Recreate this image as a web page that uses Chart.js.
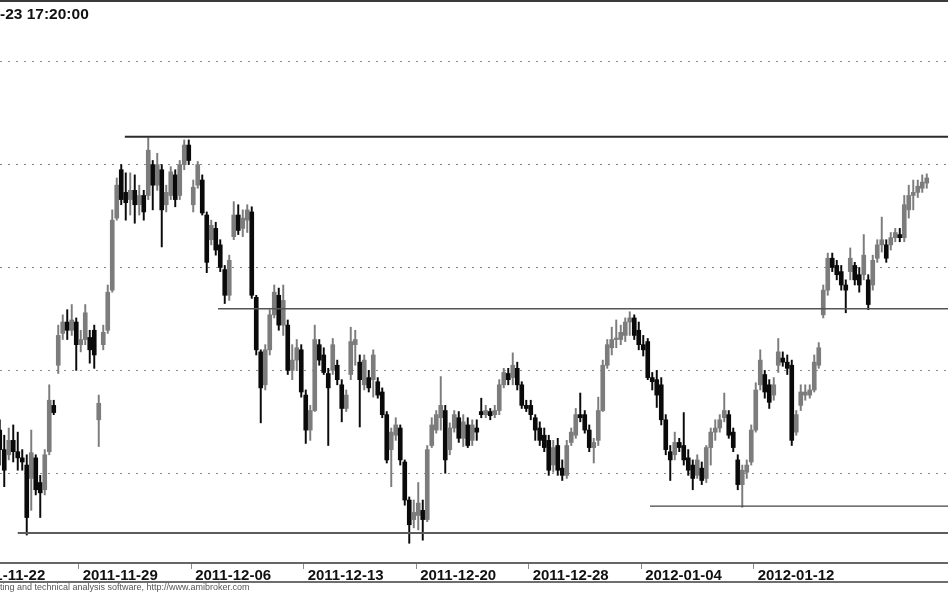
<!DOCTYPE html>
<html>
<head>
<meta charset="utf-8">
<script src="https://cdn.jsdelivr.net/npm/chart.js@4.4.1/dist/chart.umd.min.js"></script>
<style>
  html, body { margin: 0; padding: 0; background: #fff; overflow: hidden; }
  canvas { display: block; }
</style>
</head>
<body>
<canvas id="c" width="948" height="593"></canvas>
<script>
// ---- data (hourly bars, price units) ----
const firstBar = 7; // index of the first visible bar (5 bars per trading day, bar 0 = 2011-11-22 open)
const opens = [
  2171, 2161.5, 2159, 2166, 2160.5, 2157.5, 2154, 2147.5, 2157.5, 2145.5,
  2142, 2160.5, 2183, 2202.5, 2218, 2223.5, 2219.5, 2223.5, 2212.5, 2215,
  2216, 2219.5, 2176, 2212.5, 2219.5, 2239, 2274, 2297.5, 2286.5, 2283,
  2287.5, 2280.5, 2285, 2285, 2300, 2290, 2297.5, 2280.5, 2285, 2295,
  2285, 2300, 2309.5, 2280.5, 2290, 2292.5, 2275.5, 2263.5, 2269, 2261,
  2249, 2236.5, 2265, 2275.5, 2269, 2273, 2277, 2235.5, 2209, 2193,
  2210, 2227, 2236.5, 2222, 2222, 2200, 2205, 2210, 2188, 2171,
  2180.5, 2212.5, 2207.5, 2198.5, 2200, 2202.5, 2193, 2181.5, 2198, 2212.5,
  2204, 2193, 2196.5, 2195.5, 2194.5, 2189.5, 2178.5, 2161.5, 2168.5, 2172,
  2155.5, 2137, 2127.5, 2129.5, 2132, 2127.5, 2163.5, 2171, 2177, 2180.5,
  2161.5, 2172, 2177, 2167, 2173.5, 2166, 2172, 2180, 2178.5, 2180,
  2178.5, 2180.5, 2193, 2198.5, 2196.5, 2201, 2193, 2183, 2183, 2177,
  2172, 2168.5, 2166, 2154, 2163.5, 2152.5, 2149, 2165, 2168.5, 2178.5,
  2178.5, 2171, 2162.5, 2166, 2180.5, 2202.5, 2211, 2215, 2215, 2217,
  2223.5, 2225.5, 2219.5, 2212.5, 2214, 2196.5, 2195.5, 2193, 2176, 2160.5,
  2159, 2165, 2163.5, 2157.5, 2154, 2149, 2152.5, 2147.5, 2162.5, 2170,
  2172, 2177, 2178.5, 2170, 2156.5, 2144.5, 2150.5, 2155.5, 2171, 2193,
  2198, 2193, 2188, 2202.5, 2206, 2204, 2202.5, 2170, 2183, 2188,
  2188, 2190.5, 2202.5, 2227, 2239, 2254.5, 2251, 2248, 2241.5, 2248,
  2251, 2246.5, 2246.5, 2244, 2241.5, 2254.5, 2261, 2261, 2261, 2264.5,
  2266, 2264.5, 2278, 2285, 2286.5, 2288.5, 2291
];
const highs = [
  2176, 2168.5, 2172, 2173.5, 2170, 2161.5, 2159, 2171, 2159, 2149,
  2161.5, 2193, 2185.5, 2222, 2227, 2229.5, 2232, 2225.5, 2219.5, 2232,
  2219.5, 2222, 2188, 2222, 2241.5, 2278, 2293.5, 2300, 2296, 2296,
  2295, 2290, 2287.5, 2313, 2302, 2305.5, 2300, 2290, 2299, 2297.5,
  2302, 2312, 2312, 2292.5, 2301.5, 2295, 2277, 2273, 2272, 2263.5,
  2251, 2256, 2282, 2280.5, 2278, 2280.5, 2279.5, 2236.5, 2210, 2212.5,
  2229.5, 2241.5, 2240, 2241.5, 2224.5, 2212.5, 2215, 2212.5, 2190.5, 2183,
  2222, 2215, 2211, 2201, 2215.5, 2205, 2195.5, 2190.5, 2221, 2219.5,
  2207.5, 2207.5, 2200, 2210, 2196.5, 2191.5, 2180, 2172, 2177, 2173.5,
  2156.5, 2138.5, 2137, 2145.5, 2137, 2163.5, 2177, 2180.5, 2197, 2183,
  2174.5, 2180.5, 2180, 2178.5, 2177, 2176, 2176, 2186.5, 2183, 2181.5,
  2183, 2195.5, 2201, 2201, 2208.5, 2204, 2194.5, 2185.5, 2185.5, 2178.5,
  2175, 2172, 2168.5, 2166, 2167, 2156.5, 2166, 2172, 2181.5, 2189,
  2180.5, 2173.5, 2167, 2187, 2205, 2215, 2221, 2224.5, 2222, 2225.5,
  2228.5, 2227, 2223.5, 2217, 2215.5, 2199, 2200, 2196.5, 2178.5, 2163.5,
  2170, 2167, 2179.5, 2161.5, 2156.5, 2159, 2155.5, 2163.5, 2172, 2176,
  2178.5, 2189, 2180.5, 2172, 2159, 2154, 2156.5, 2173.5, 2194, 2210,
  2200, 2195.5, 2196.5, 2215.5, 2209, 2207.5, 2205, 2180.5, 2193, 2193,
  2193, 2207.5, 2213.5, 2241.5, 2257, 2257, 2253.5, 2251, 2244, 2259.5,
  2252.5, 2250, 2266, 2246.5, 2256, 2263.5, 2274.5, 2263.5, 2267, 2269,
  2269, 2285, 2290, 2292.5, 2292.5, 2295, 2295.5
];
const lows = [
  2154, 2143.5, 2156.5, 2155.5, 2151.5, 2151.5, 2120, 2132, 2139.5, 2128.5,
  2139.5, 2159, 2178.5, 2198.5, 2215, 2215, 2217, 2200, 2209, 2212.5,
  2203.5, 2201, 2163, 2210, 2218, 2238, 2273, 2280.5, 2273, 2275.5,
  2271.5, 2275.5, 2273, 2283, 2278, 2287.5, 2260, 2277, 2283, 2279.5,
  2283, 2297.5, 2300, 2277, 2288.5, 2275.5, 2247.5, 2261, 2256, 2248,
  2232.5, 2234, 2263.5, 2266, 2265, 2267, 2235, 2207.5, 2174.5, 2190.5,
  2207.5, 2225.5, 2219.5, 2217, 2198, 2195.5, 2200, 2187, 2164.5, 2166,
  2180, 2202.5, 2198, 2163.5, 2198, 2193, 2175, 2180, 2195.5, 2202.5,
  2172.5, 2190.5, 2189.5, 2187, 2186.5, 2177, 2155, 2143.5, 2166, 2154,
  2134.5, 2116, 2123.5, 2122.5, 2117.5, 2126.5, 2162.5, 2169.5, 2171, 2150,
  2159, 2170, 2165, 2163, 2162.5, 2163.5, 2166, 2177, 2177, 2176,
  2177, 2178.5, 2191.5, 2193, 2193, 2190.5, 2181.5, 2180, 2176, 2166,
  2163.5, 2160.5, 2149, 2150.5, 2149, 2146.5, 2147.5, 2163.5, 2167, 2175,
  2169.5, 2160.5, 2155, 2163.5, 2180, 2201, 2207.5, 2211, 2212.5, 2214,
  2217, 2215, 2210, 2207, 2195.5, 2190.5, 2182, 2173.5, 2159, 2146.5,
  2156.5, 2160.5, 2154, 2149, 2142, 2147.5, 2144.5, 2145.5, 2154, 2166,
  2170, 2175, 2167, 2160.5, 2142, 2133.5, 2147.5, 2154, 2170, 2190.5,
  2186.5, 2181.5, 2185.5, 2199, 2202, 2198, 2163.5, 2168.5, 2180.5, 2185.5,
  2186.5, 2189.5, 2201, 2225.5, 2236.5, 2248, 2244, 2239, 2228, 2244,
  2241.5, 2238, 2244, 2229.5, 2239, 2252.5, 2257.5, 2252.5, 2258.5, 2262.5,
  2262.5, 2262.5, 2274, 2278, 2284, 2286.5, 2288.5
];
const closes = [
  2161.5, 2151.5, 2166, 2160.5, 2157.5, 2155.5, 2128.5, 2160, 2142, 2140.5,
  2159, 2185.5, 2179.5, 2217, 2223.5, 2219.5, 2224.5, 2212.5, 2215, 2228,
  2210, 2207.5, 2184, 2218.5, 2238, 2273, 2290, 2283, 2281.5, 2287.5,
  2280.5, 2285, 2277, 2307, 2290, 2300, 2278, 2286.5, 2296.5, 2283,
  2300, 2309.5, 2302, 2289, 2300, 2276.5, 2252.5, 2270.5, 2258.5, 2250,
  2236.5, 2253.5, 2275.5, 2268, 2274, 2278, 2236.5, 2210, 2191.5, 2210,
  2227, 2238, 2222, 2234, 2200, 2205, 2211, 2189.5, 2171, 2180.5,
  2215, 2205, 2199, 2191.5, 2212.5, 2195.5, 2181.5, 2188, 2214, 2215,
  2195.5, 2205, 2191.5, 2207.5, 2188, 2178.5, 2156.5, 2170, 2173.5, 2156.5,
  2137, 2125, 2131, 2135.5, 2127.5, 2161.5, 2173.5, 2178.5, 2183, 2156.5,
  2172, 2178.5, 2167, 2175, 2163.5, 2173.5, 2170, 2178.5, 2180.5, 2178,
  2180.5, 2193, 2199, 2195.5, 2202.5, 2193, 2183, 2181.5, 2178.5, 2171,
  2166, 2162.5, 2151.5, 2162.5, 2151.5, 2149, 2163.5, 2170, 2178.5, 2177,
  2171, 2162.5, 2165, 2180.5, 2202.5, 2212.5, 2215, 2215.5, 2218.5, 2223.5,
  2225.5, 2217, 2212.5, 2210, 2196.5, 2194.5, 2188, 2176, 2161.5, 2156.5,
  2165, 2162.5, 2156.5, 2151.5, 2147.5, 2156.5, 2146.5, 2162.5, 2170, 2172,
  2176, 2180.5, 2168.5, 2162.5, 2144.5, 2151.5, 2154, 2171, 2190.5, 2205,
  2189.5, 2184.5, 2193, 2209, 2204, 2201, 2166, 2178.5, 2189.5, 2189.5,
  2190.5, 2204, 2211, 2239, 2254.5, 2250, 2246.5, 2241.5, 2239, 2254.5,
  2244, 2241.5, 2256, 2232, 2253.5, 2261, 2263.5, 2254.5, 2264.5, 2267,
  2264.5, 2280.5, 2285, 2286.5, 2289.5, 2291.5, 2293.5
];
// weekly date ticks (bar positions of the start of each week) and their labels
const weekTickBars = [-0.5, 24.5, 49.5, 74.5, 99.5, 124.5, 149.5, 174.5];
const weekTickLabels = ['2011-11-22', '2011-11-29', '2011-12-06', '2011-12-13',
                        '2011-12-20', '2011-12-28', '2012-01-04', '2012-01-12'];
// dotted horizontal grid levels
const gridLevels = [2150, 2200, 2250, 2300, 2350];
// hand-drawn horizontal support / resistance levels and the bar where each starts
const levelValues = [2313.5, 2230, 2134, 2121];
const levelStartBars = [34.8, 55.5, 151.5, 11];
// visible window
const viewFirst = 7.056, viewLast = 217.72;
const yMin = 2106.41, yMax = 2367.35;
const titleText = '-23 17:20:00';
const footerText = 'ting and technical analysis software, http://www.amibroker.com';

// ---- styles ----
const FONT = "'Liberation Sans', Arial, sans-serif";
const UP = '#7c7c7c', DOWN = '#0a0a0a';
const levelColors = ['#2b2b2b', '#555555', '#444444', '#5c5c5c'];
const levelWidths = [2, 1.5, 1.2, 2];

const barX = opens.map((_, i) => firstBar + i);
const isUp = opens.map((o, i) => closes[i] >= o);
const candleColors = isUp.map(u => (u ? UP : DOWN));

const framePlugin = {
  id: 'frame',
  afterDraw(chart) {
    const ctx = chart.ctx;
    const xs = chart.scales.x;
    ctx.save();
    ctx.fillStyle = '#3a3a3a';
    ctx.fillRect(0, 0, chart.width, 2);
    ctx.fillStyle = '#6e6e6e';
    ctx.fillRect(0, xs.bottom - 1, chart.width, 2);
    ctx.restore();
  }
};

const datasets = [
  {
    type: 'bar',
    label: 'body',
    data: barX.map((x, i) => ({ x, y: [Math.min(opens[i], closes[i]), Math.max(opens[i], closes[i])] })),
    backgroundColor: candleColors,
    borderWidth: 0,
    grouped: false,
    barPercentage: 1,
    categoryPercentage: 1,
    maxBarThickness: 4,
    minBarLength: 1.5,
    order: 1
  },
  {
    type: 'bar',
    label: 'range',
    data: barX.map((x, i) => ({ x, y: [lows[i], highs[i]] })),
    backgroundColor: candleColors,
    borderWidth: 0,
    grouped: false,
    barPercentage: 1,
    categoryPercentage: 1,
    maxBarThickness: 1.3,
    order: 2
  }
];
levelValues.forEach((v, k) => {
  datasets.push({
    type: 'line',
    label: 'level' + k,
    data: [{ x: levelStartBars[k], y: v }, { x: viewLast, y: v }],
    borderColor: levelColors[k],
    borderWidth: levelWidths[k],
    pointRadius: 0,
    fill: false,
    order: 0
  });
});

new Chart(document.getElementById('c'), {
  type: 'bar',
  data: { datasets },
  plugins: [framePlugin],
  options: {
    responsive: false,
    animation: false,
    events: [],
    layout: { padding: 0 },
    plugins: {
      legend: { display: false },
      tooltip: { enabled: false },
      title: {
        display: true, text: titleText, align: 'start', color: '#111',
        font: { family: FONT, size: 15.5, weight: 'bold' },
        padding: { top: 5, bottom: 2.4 }
      },
      subtitle: {
        display: true, text: footerText, position: 'bottom', align: 'start', color: '#555',
        font: { family: FONT, size: 9 },
        padding: { top: 0.2, bottom: 0 }
      }
    },
    scales: {
      x: {
        type: 'linear',
        min: viewFirst, max: viewLast,
        offset: false,
        afterBuildTicks: s => { s.ticks = weekTickBars.map(v => ({ value: v })); },
        afterFit: s => { s.paddingLeft = 0; s.paddingRight = 0; },
        grid: { display: true, offset: false, drawOnChartArea: false, drawTicks: true,
                tickLength: 6, tickColor: '#8a8a8a', tickWidth: 1 },
        border: { display: true, color: '#666', width: 2 },
        ticks: {
          autoSkip: false, maxRotation: 0, minRotation: 0, align: 'start', padding: -2.5,
          color: '#111', font: { family: FONT, size: 15, weight: 'bold' },
          callback: (v, i) => ' ' + weekTickLabels[i]
        }
      },
      y: {
        type: 'linear',
        min: yMin, max: yMax,
        beginAtZero: false,
        afterBuildTicks: s => { s.ticks = gridLevels.map(v => ({ value: v })); },
        grid: { color: '#8c8c8c', lineWidth: 1, drawTicks: false },
        border: { display: false, dash: [2, 6] },
        ticks: { display: false }
      }
    }
  }
});
</script>
</body>
</html>
